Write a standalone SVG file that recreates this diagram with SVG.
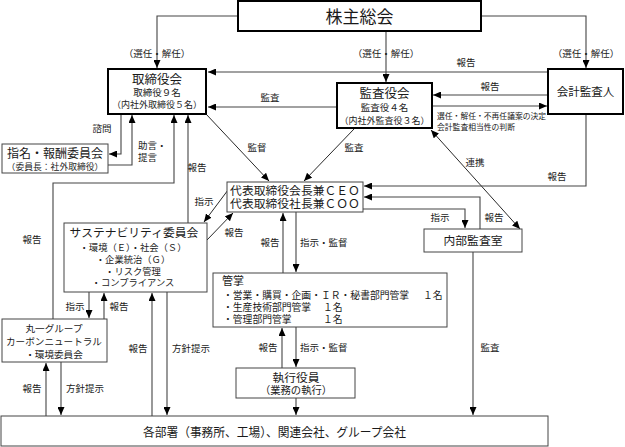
<svg xmlns="http://www.w3.org/2000/svg" width="625" height="447" viewBox="0 0 625 447">
<defs>
<marker id="ah" viewBox="0 0 8 7" refX="8" refY="3.5" markerWidth="8" markerHeight="7" orient="auto" markerUnits="userSpaceOnUse"><path d="M0,0 L8,3.5 L0,7 z" fill="#000"/></marker>
<marker id="as" viewBox="0 0 8 7" refX="0" refY="3.5" markerWidth="8" markerHeight="7" orient="auto" markerUnits="userSpaceOnUse"><path d="M8,0 L0,3.5 L8,7 z" fill="#000"/></marker>
</defs>
<style>
text{font-family:"Liberation Serif","Noto Sans CJK JP",serif;fill:#1a1a1a}
.b{fill:#fff;stroke:#000;stroke-width:2}
.t{fill:#fff;stroke:#444;stroke-width:1}
.c path{fill:none;stroke:#444;stroke-width:1.1;marker-end:url(#ah)}
.c path.d{stroke:#111;stroke-width:0.9}
.l{font-size:9.5px;text-anchor:middle}
.ls{font-size:9.5px}
.m{text-anchor:middle}
</style>
<rect width="625" height="447" fill="#fff"/>
<g class="c" id="connectors">
<path d="M238,16 H157 V68"/>
<path d="M386,31 V82"/>
<path d="M481,16 H586 V68"/>
<path d="M548,72 H208"/>
<path d="M337,107 H208"/>
<path d="M548,95 H433"/>
<path d="M432,106 H547"/>
<path d="M121,115 V154 H109"/>
<path d="M108,165 H132 V115"/>
<path d="M53,319 V183 H174 V115"/>
<path d="M188,223 V115"/>
<path class="d" d="M206,114 L269,181"/>
<path class="d" d="M354,129 L304,181"/>
<path class="d" d="M431,130 L520,229" style="marker-start:url(#as)"/>
<path d="M586,114 V186 H364"/>
<path d="M480,229 V197 H364"/>
<path d="M363,209 H465 V228"/>
<path class="d" d="M228,190 L204,222"/>
<path class="d" d="M207,240 L233,213"/>
<path d="M296,212 V272"/>
<path d="M283,273 V213"/>
<path d="M296,327 V367"/>
<path d="M282,368 V328"/>
<path d="M296,398 V415"/>
<path d="M473,252 V415"/>
<path d="M89,292 V318"/>
<path d="M104,319 V293"/>
<path d="M46,416 V363"/>
<path d="M61,362 V415"/>
<path d="M152,416 V293"/>
<path d="M167,292 V415"/>
</g>
<g id="kabunushi"><rect class="b" x="238" y="1" width="243" height="30"/><text x="359.5" y="22.5" class="m" font-size="17">株主総会</text></g>
<g id="torishimari"><rect class="b" x="108" y="69" width="98" height="45"/><text x="157" y="84" class="m" font-size="12.5">取締役会</text><text x="157" y="96" class="m" font-size="9.5">取締役９名</text><text x="157" y="108" class="m" font-size="9">（内社外取締役５名）</text></g>
<g id="kansayaku"><rect class="b" x="337" y="83" width="95" height="45"/><text x="384.5" y="98" class="m" font-size="12.5">監査役会</text><text x="384.5" y="111" class="m" font-size="9.5">監査役４名</text><text x="384.5" y="124" class="m" font-size="9">（内社外監査役３名）</text></g>
<g id="kaikei"><rect class="b" x="548" y="69" width="75" height="45"/><text x="585.5" y="96" class="m" font-size="11.5">会計監査人</text></g>
<g id="shimei"><rect class="t" x="2" y="144" width="106" height="29"/><text x="55" y="158" class="m" font-size="12">指名・報酬委員会</text><text x="55" y="170" class="m" font-size="8.8">（委員長：社外取締役）</text></g>
<g id="ceo"><rect class="t" x="227" y="182" width="136" height="30"/><text x="295" y="195" class="m" font-size="11.8">代表取締役会長兼ＣＥＯ</text><text x="295" y="208" class="m" font-size="11.8">代表取締役社長兼ＣＯＯ</text></g>
<g id="naibu"><rect class="t" x="424" y="229" width="98" height="23"/><text x="473" y="245" class="m" font-size="11.8">内部監査室</text></g>
<g id="sustainability"><rect class="t" x="64" y="223" width="143" height="69"/><text x="134" y="237" class="m" font-size="11.8">サステナビリティ委員会</text><text x="133" y="251" class="m" font-size="9.3">・環境（Ｅ）・社会（Ｓ）</text><text x="133" y="263" class="m" font-size="9.3">・企業統治（Ｇ）</text><text x="133" y="275" class="m" font-size="9.3">・リスク管理</text><text x="133" y="286" class="m" font-size="9.3">・コンプライアンス</text></g>
<g id="kansho"><rect class="t" x="213" y="273" width="234" height="54"/><text x="222" y="285" font-size="11">管掌</text><text x="223" y="299" font-size="9.8">・営業・購買・企画・ＩＲ・秘書部門管掌<tspan x="423">１名</tspan></text><text x="223" y="311" font-size="9.8">・生産技術部門管掌<tspan x="323">１名</tspan></text><text x="223" y="323" font-size="9.8">・管理部門管掌<tspan x="323">１名</tspan></text></g>
<g id="maruichi"><rect class="t" x="2" y="319" width="105" height="43"/><text x="54" y="332" class="m" font-size="9.6">丸一グループ</text><text x="54" y="345" class="m" font-size="9.6">カーボンニュートラル</text><text x="54" y="358" class="m" font-size="9.6">・環境委員会</text></g>
<g id="shikko"><rect class="t" x="236" y="368" width="119" height="30"/><text x="296" y="382" class="m" font-size="11.8">執行役員</text><text x="296" y="394" class="m" font-size="10.3">（業務の執行）</text></g>
<g id="kakubusho"><rect class="t" x="1" y="416" width="547" height="30"/><text x="143" y="436.5" font-size="12.5" textLength="263" lengthAdjust="spacingAndGlyphs">各部署（事務所、工場）、関連会社、グループ会社</text></g>
<g id="labels">
<text x="157" y="57" class="l" font-size="9">（選任・解任）</text>
<text x="386" y="57" class="l">（選任・解任）</text>
<text x="586" y="57" class="l">（選任・解任）</text>
<text x="466" y="66" class="l">報告</text>
<text x="270" y="101" class="l">監査</text>
<text x="490" y="90" class="l">報告</text>
<text x="437" y="119" font-size="7.8">選任・解任・不再任議案の決定</text>
<text x="437" y="130" font-size="7.8">会計監査相当性の判断</text>
<text x="102" y="132" class="l">諮問</text>
<text x="138" y="149" class="ls">助言・</text>
<text x="138" y="161" class="ls">提言</text>
<text x="257" y="151" class="l">監督</text>
<text x="354" y="151" class="l">監査</text>
<text x="197" y="171" class="l">報告</text>
<text x="475" y="166" class="l">連携</text>
<text x="557" y="180" class="l">報告</text>
<text x="204" y="205" class="l">指示</text>
<text x="234" y="236" class="l">報告</text>
<text x="32" y="243" class="l">報告</text>
<text x="270" y="246" class="l">報告</text>
<text x="300" y="246" class="ls">指示・監督</text>
<text x="440" y="221" class="l">指示</text>
<text x="494" y="221" class="l">報告</text>
<text x="75" y="310" class="l">指示</text>
<text x="119" y="310" class="l">報告</text>
<text x="138" y="352" class="l">報告</text>
<text x="172" y="352" class="ls">方針提示</text>
<text x="268" y="351" class="l">報告</text>
<text x="300" y="351" class="ls">指示・監督</text>
<text x="490" y="351" class="l">監査</text>
<text x="32" y="392" class="l">報告</text>
<text x="66" y="392" class="ls">方針提示</text>
</g>
</svg>
